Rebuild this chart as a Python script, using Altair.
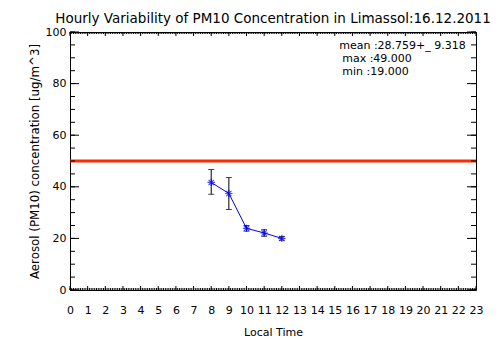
import altair as alt
import pandas as pd

# ---- data ----
hours = [8, 9, 10, 11, 12]
means = [41.7, 37.4, 23.9, 22.1, 20.0]
lows = [37.1, 31.2, 22.8, 20.8, 19.3]
highs = [46.7, 43.6, 25.0, 23.4, 20.7]
limit_value = 50
x_labels = list(range(24))
y_labels = [0, 20, 40, 60, 80, 100]
x_minor = [round(i * 0.1, 1) for i in range(231)]
y_minor = list(range(0, 101, 5))
stats_head = "mean :28.759+_ 9.318"
stats_rest = ["max :49.000", "min :19.000"]
stats_pos = [15.25, 94.5]
title_text = "Hourly Variability of PM10 Concentration in Limassol:16.12.2011"
x_title = "Local Time"
y_title = "Aerosol (PM10) concentration [ug/m^3]"

W, H = 406, 258
FONT = "DejaVu Sans"

df = pd.DataFrame({"hour": hours, "mean": means, "lo": lows, "hi": highs})
xs = alt.Scale(domain=[0, 23], nice=False, zero=False)
ys = alt.Scale(domain=[0, 100], nice=False)

x_axis = alt.Axis(values=x_labels, ticks=False, domain=False, grid=False,
                  labelPadding=14, titlePadding=11, labelAngle=0,
                  labelFont=FONT, labelFontSize=11, titleFont=FONT,
                  titleFontSize=11, titleFontWeight="normal", labelColor="black",
                  titleColor="black", labelFlush=False)
y_axis = alt.Axis(values=y_labels, ticks=False, domain=False, grid=False,
                  labelPadding=4, titlePadding=5,
                  labelFont=FONT, labelFontSize=11, titleFont=FONT,
                  titleFontSize=11.8, titleFontWeight="normal", labelColor="black",
                  titleColor="black", labelFlush=False)


def X(field):
    return alt.X(field, scale=xs, axis=x_axis, title=x_title)


def Y(field):
    return alt.Y(field, scale=ys, axis=y_axis, title=y_title)


base = alt.Chart(df)

line = base.mark_line(color="#0000ff", strokeWidth=1).encode(
    x=X("hour:Q"), y=Y("mean:Q"))
asterisk = "M0,-1L0,1M-1,0L1,0M-0.7,-0.7L0.7,0.7M-0.7,0.7L0.7,-0.7"
points = base.mark_point(shape=asterisk, color="#0000ff", filled=False,
                         size=55, strokeWidth=1.2).encode(
    x=X("hour:Q"), y=Y("mean:Q"))
err = base.mark_rule(color="black", strokeWidth=1).encode(
    x=X("hour:Q"), y=Y("lo:Q"), y2="hi:Q")
cap_lo = base.mark_tick(color="black", orient="horizontal", size=6, thickness=1).encode(
    x=X("hour:Q"), y=Y("lo:Q"))
cap_hi = base.mark_tick(color="black", orient="horizontal", size=6, thickness=1).encode(
    x=X("hour:Q"), y=Y("hi:Q"))
limit = alt.Chart(pd.DataFrame({"v": [limit_value]})).mark_rule(
    color="#ff2a00", strokeWidth=3).encode(
    y=Y("v:Q"), x=alt.value(0), x2=alt.value(W))


def xticks(vals, y0, y1):
    return alt.Chart(pd.DataFrame({"t": vals})).mark_rule(color="black", strokeWidth=1).encode(
        x=X("t:Q"), y=alt.value(y0), y2=alt.value(y1))


def yticks(vals, x0, x1):
    return alt.Chart(pd.DataFrame({"t": vals})).mark_rule(color="black", strokeWidth=1).encode(
        y=Y("t:Q"), x=alt.value(x0), x2=alt.value(x1))


ticks = [
    xticks(x_minor, H, H - 2), xticks(x_labels, H, H - 4),
    xticks(x_minor, 0, 2), xticks(x_labels, 0, 4),
    yticks(y_minor, 0, 5), yticks(y_labels, 0, 9),
    yticks(y_minor, W, W - 5), yticks(y_labels, W, W - 9),
]

stats1 = alt.Chart(pd.DataFrame({"x": [stats_pos[0]], "y": [stats_pos[1]],
                                 "txt": [stats_head]})).mark_text(
    align="left", baseline="middle", font=FONT, fontSize=11, color="black").encode(
    x=X("x:Q"), y=Y("y:Q"), text="txt:N")
stats2 = alt.Chart(pd.DataFrame({"x": [stats_pos[0]], "y": [stats_pos[1]],
                                 "txt": ["\n".join(stats_rest)]})).mark_text(
    align="left", baseline="middle", font=FONT, fontSize=11, lineBreak="\n",
    lineHeight=13, dx=3, dy=13, color="black").encode(
    x=X("x:Q"), y=Y("y:Q"), text="txt:N")

chart = alt.layer(line, limit, err, cap_lo, cap_hi, points, *ticks, stats1, stats2).properties(
    width=W, height=H,
    title=alt.TitleParams(title_text, font=FONT, fontSize=13.5, fontWeight="normal",
                          anchor="middle", color="black", offset=1),
    autosize="none",
    padding={"left": 62, "top": 24, "right": 20, "bottom": 63},
    background="white",
).configure_view(stroke="black", strokeWidth=1)

chart.save("out.html", embed_options={"renderer": "svg", "actions": False})
